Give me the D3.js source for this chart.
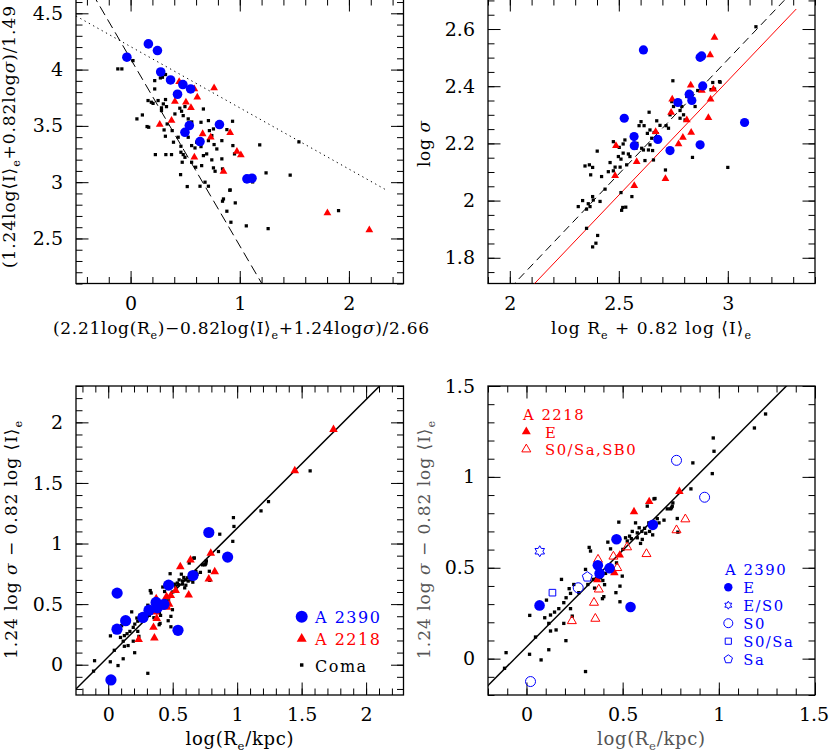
<!DOCTYPE html>
<html>
<head>
<meta charset="utf-8">
<script src="https://cdn.jsdelivr.net/npm/d3@7"></script>
<style>
body { margin: 0; background: #fff; }
text { font-family: "DejaVu Serif", serif; }
</style>
</head>
<body>
<svg width="830" height="753"></svg>
<script>
// ---- panel 1 : FP seen "face on" ----
let comaP1 = [[-0.117,4.006],[-0.08,4.006],[0.022,4.08],[0.221,3.902],[0.273,3.926],[0.292,3.932],[0.32,3.956],[0.221,3.828],[0.32,3.734],[0.16,3.725],[0.19,3.71],[0.206,3.70],[0.252,3.725],[0.3,3.695],[0.283,3.66],[0.283,3.636],[0.329,3.671],[0.406,3.606],[0.451,3.657],[0.498,3.671],[0.467,3.63],[0.482,3.591],[0.667,3.65],[0.528,3.562],[0.535,3.53],[0.56,3.535],[0.058,3.562],[0.108,3.597],[0.166,3.488],[0.335,3.517],[0.381,3.458],[0.307,3.464],[0.319,3.408],[0.393,3.355],[0.436,3.399],[0.461,3.319],[0.528,3.399],[0.645,3.532],[0.713,3.547],[0.759,3.473],[0.722,3.458],[0.744,3.414],[0.713,3.369],[0.765,3.334],[0.79,3.295],[0.836,3.369],[0.882,3.467],[0.934,3.541],[0.796,3.517],[0.605,3.355],[0.559,3.325],[0.59,3.304],[0.645,3.316],[0.227,3.245],[0.323,3.245],[0.375,3.245],[0.461,3.266],[0.482,3.245],[0.498,3.221],[0.473,3.177],[0.559,3.177],[0.596,3.133],[0.651,3.147],[0.667,3.236],[0.697,3.251],[0.744,3.198],[0.759,3.127],[0.774,3.097],[0.836,3.207],[0.842,3.118],[0.937,3.325],[0.952,3.251],[0.458,3.067],[0.519,2.961],[0.636,2.964],[0.682,3.0],[0.713,2.964],[0.912,2.931],[0.851,2.851],[1.183,3.331],[1.241,3.082],[1.462,3.062],[1.542,3.358],[1.905,2.748],[1.26,2.588],[1.06,2.612],[0.919,2.644],[0.882,2.742],[0.959,2.816],[0.909,2.928],[1.118,3.002],[0.842,2.831],[0.151,3.494]];
let a2218P1 = [[0.765,3.837],[0.611,3.754],[0.406,3.716],[0.507,3.71],[0.553,3.66],[0.267,3.512],[0.375,3.547],[0.445,3.893],[0.912,3.438],[0.66,3.429],[0.734,3.4],[0.584,3.221],[0.974,3.272],[1.01,3.242],[0.851,3.094],[1.803,2.727],[2.187,2.576],[0.584,3.828]];
let a2390P1 = [[-0.034,4.11],[0.163,4.228],[0.246,4.169],[0.276,3.979],[0.366,3.908],[0.479,3.867],[0.55,3.828],[0.43,3.781],[0.538,3.503],[0.498,3.443],[0.636,3.361],[0.814,3.512],[1.066,3.029],[1.112,3.035]];
let dashP1 = [[-0.35,4.676],[1.25,2.02]];
let dotP1 = [[-0.5,4.476],[2.33,2.937]];

// ---- panel 2 : log sigma vs log Re + 0.82 log I ----
let comaP2 = [[2.748,2.419],[2.639,2.309],[2.602,2.276],[2.593,2.262],[2.616,2.262],[2.674,2.279],[2.689,2.263],[2.717,2.262],[2.728,2.253],[2.735,2.3],[2.751,2.329],[2.743,2.346],[2.774,2.341],[2.781,2.315],[2.789,2.329],[2.797,2.3],[2.781,2.288],[2.804,2.282],[2.812,2.364],[2.835,2.375],[2.85,2.329],[2.931,2.413],[2.965,2.414],[2.923,2.388],[2.939,2.39],[2.862,2.385],[2.643,2.247],[2.631,2.235],[2.662,2.238],[2.651,2.218],[2.674,2.212],[2.643,2.195],[2.636,2.177],[2.655,2.175],[2.583,2.2],[2.579,2.183],[2.605,2.183],[2.613,2.177],[2.528,2.212],[2.52,2.198],[2.502,2.186],[2.475,2.206],[2.401,2.173],[2.498,2.154],[2.51,2.145],[2.52,2.166],[2.544,2.163],[2.551,2.154],[2.506,2.117],[2.483,2.117],[2.475,2.104],[2.452,2.101],[2.46,2.133],[2.421,2.084],[2.536,2.125],[2.62,2.14],[2.659,2.142],[2.345,2.121],[2.365,2.125],[2.38,2.116],[2.371,2.09],[2.437,2.04],[2.38,2.014],[2.383,2.002],[2.334,2.0],[2.36,1.989],[2.414,1.997],[2.352,1.97],[2.314,1.979],[2.368,1.979],[2.51,2.028],[2.56,2.014],[2.518,1.976],[2.532,1.977],[2.513,1.966],[2.714,2.107],[2.838,2.151],[3.0,2.116],[2.352,1.903],[2.403,1.878],[2.395,1.851],[2.38,1.838],[3.129,2.608],[2.962,2.416]];
let a2218P2 = [[2.939,2.57],[2.919,2.509],[2.83,2.403],[2.881,2.385],[2.934,2.389],[2.921,2.354],[2.911,2.29],[2.745,2.354],[2.74,2.308],[2.812,2.282],[2.832,2.238],[2.774,2.198],[2.794,2.221],[2.487,2.192],[2.483,2.087],[2.582,2.136],[2.571,2.052],[2.714,2.076],[2.669,2.241]];
let a2390P2 = [[2.613,2.527],[2.525,2.288],[2.57,2.224],[2.571,2.192],[2.679,2.214],[2.735,2.175],[2.771,2.343],[2.823,2.372],[2.835,2.35],[2.873,2.501],[2.88,2.506],[2.885,2.401],[2.873,2.195],[3.077,2.273]];
let dashP2 = [[2.0,1.693],[3.3,2.733]];
let redP2 = [[2.09,1.691],[3.314,2.67]];

// ---- panels 3 and 4 : FP edge on, log Re ----
let comaRe = [[-0.114,-0.053],[-0.106,0.033],[0.016,0.024],[0.076,-0.007],[0.017,0.238],[0.047,0.119],[0.116,0.049],[0.095,0.225],[0.104,0.322],[0.125,0.24],[0.116,0.194],[0.125,0.152],[0.154,0.158],[0.146,0.256],[0.168,0.275],[0.182,0.436],[0.194,0.194],[0.205,0.099],[0.194,0.308],[0.206,0.335],[0.222,0.385],[0.229,0.359],[0.238,0.234],[0.246,0.408],[0.272,0.363],[0.307,0.491],[0.319,0.408],[0.326,0.612],[0.333,0.592],[0.347,0.436],[0.354,0.388],[0.397,0.43],[0.406,0.407],[0.395,0.33],[0.402,0.341],[0.307,-0.071],[0.423,0.641],[0.437,0.604],[0.48,0.751],[0.486,0.399],[0.465,0.363],[0.486,0.313],[0.468,0.527],[0.501,0.601],[0.515,0.665],[0.524,0.647],[0.536,0.674],[0.567,0.747],[0.576,0.692],[0.586,0.72],[0.602,0.656],[0.576,0.665],[0.593,0.634],[0.614,0.717],[0.628,0.839],[0.636,0.747],[0.656,0.681],[0.668,0.881],[0.689,0.747],[0.715,0.762],[0.732,0.824],[0.749,0.824],[0.761,0.857],[0.758,0.839],[0.787,0.696],[0.498,0.454],[0.411,0.469],[0.385,0.445],[0.229,0.275],[0.971,1.214],[0.975,1.141],[0.966,1.018],[0.865,1.077],[0.855,0.934],[1.185,1.269],[1.243,1.346],[0.784,0.771],[0.754,0.83],[0.663,0.879],[1.566,1.60],[0.55,0.70],[0.62,0.69],[0.64,0.70],[0.545,0.66],[0.60,0.70],[0.68,0.77]];
let a2218Re = [[0.559,0.808],[0.638,0.864],[0.795,0.92],[0.485,0.57],[0.457,0.473],[0.368,0.434],[0.236,0.207],[0.351,0.308],[0.358,0.22],[0.376,0.381],[0.372,0.545],[0.452,0.562],[0.472,0.499],[0.523,0.613],[0.624,0.576],[0.78,0.707],[0.826,0.767],[1.447,1.60],[1.747,1.941]];
let a2218Type = ['E','E','E','E','E','E','S','S','S','S','S','S','S','S','S','S','S','E','E'];
let a2390Re = [[0.021,-0.126],[0.068,0.293],[0.069,0.591],[0.135,0.363],[0.269,0.39],[0.316,0.45],[0.371,0.514],[0.38,0.469],[0.432,0.498],[0.468,0.657],[0.541,0.284],[0.657,0.736],[0.78,1.091],[0.926,0.888]];
let a2390Type = ['S0','E','E/S0','S0/Sa','S0','Sa','E','E','E','E','E','E','S0','S0'];
let fitRe = [[-0.3,-0.254],[2.2,2.401]];

// ticks
let p1XMajor = [0, 1, 2], p1YMajor = [2.5, 3, 3.5, 4, 4.5];
let p2XMajor = [2, 2.5, 3], p2YMajor = [1.8, 2, 2.2, 2.4, 2.6];
let p3XMajor = [0, 0.5, 1, 1.5, 2], p3YMajor = [0, 0.5, 1, 1.5, 2];
let p4XMajor = [0, 0.5, 1, 1.5], p4YMajor = [0, 0.5, 1, 1.5];

let blue = '#0000ff', red = '#ff0000';
let svg = d3.select('svg');

let hexagram = {draw(c, R) {
    for (let k = 0; k < 12; k++) {
        let r = k % 2 ? R / Math.sqrt(3) : R, a = -Math.PI / 2 + k * Math.PI / 6;
        if (k) c.lineTo(r * Math.cos(a), r * Math.sin(a)); else c.moveTo(r * Math.cos(a), r * Math.sin(a));
    }
    c.closePath();
}};
let pentagon = {draw(c, R) {
    for (let k = 0; k < 5; k++) {
        let a = -Math.PI / 2 + k * 2 * Math.PI / 5;
        if (k) c.lineTo(R * Math.cos(a), R * Math.sin(a)); else c.moveTo(R * Math.cos(a), R * Math.sin(a));
    }
    c.closePath();
}};
function triSize(w) { return Math.sqrt(3) / 4 * w * w; }
function circSize(r) { return Math.PI * r * r; }

function panel(id, box, xdom, ydom, xMajor, xStep, yMajor, yStep) {
    let x = d3.scaleLinear().domain(xdom).range([box.l, box.r]);
    let y = d3.scaleLinear().domain(ydom).range([box.b, box.t]);
    svg.append('clipPath').attr('id', 'clip' + id).append('rect')
        .attr('x', box.l).attr('y', box.t).attr('width', box.r - box.l).attr('height', box.b - box.t);
    let g = svg.append('g');
    let steps = (d, s) => d3.range(Math.ceil(d[0] / s - 1e-6), Math.floor(d[1] / s + 1e-6) + 1).map(i => +(i * s).toFixed(4));
    let xMinor = steps(xdom, xStep), yMinor = steps(ydom, yStep);
    let sides = [
        [d3.axisBottom, x, 'translate(0,' + box.b + ')', xMajor, xMinor, true],
        [d3.axisTop, x, 'translate(0,' + box.t + ')', xMajor, xMinor, false],
        [d3.axisLeft, y, 'translate(' + box.l + ',0)', yMajor, yMinor, true],
        [d3.axisRight, y, 'translate(' + box.r + ',0)', yMajor, yMinor, false]
    ];
    sides.forEach(([ax, sc, tr, major, minor, lab]) => {
        g.append('g').attr('transform', tr)
            .call(ax(sc).tickValues(minor).tickSize(-6.5).tickFormat(''))
            .call(a => a.select('.domain').remove());
        g.append('g').attr('transform', tr)
            .call(ax(sc).tickValues(major).tickSize(-12.5).tickPadding(13).tickFormat(lab ? d => String(d) : ''))
            .call(a => a.select('.domain').remove())
            .call(a => a.selectAll('text').attr('font-family', '"DejaVu Serif", serif').attr('font-size', 19)
                .attr('fill', '#000'));
    });
    g.append('rect').attr('x', box.l).attr('y', box.t).attr('width', box.r - box.l).attr('height', box.b - box.t)
        .attr('fill', 'none').attr('stroke', '#000').attr('stroke-width', 1.3);
    let inner = svg.append('g').attr('clip-path', 'url(#clip' + id + ')');
    return {x, y, g: inner, frame: g};
}

function line(p, pts, color, dash, w) {
    p.g.append('path').attr('d', d3.line().x(d => p.x(d[0])).y(d => p.y(d[1]))(pts))
        .attr('fill', 'none').attr('stroke', color).attr('stroke-width', w || 1)
        .attr('stroke-dasharray', dash || null);
}

function marks(p, pts, type, size, color, filled) {
    p.g.selectAll(null).data(pts).enter().append('path')
        .attr('transform', d => 'translate(' + p.x(d[0]) + ',' + p.y(d[1]) + ')')
        .attr('d', d3.symbol().type(type).size(size))
        .attr('fill', filled ? color : 'none')
        .attr('stroke', filled ? 'none' : color).attr('stroke-width', 1);
}

function label(x0, y0, rot, parts, fs, len, color, anchor) {
    let t = svg.append('text').attr('transform', 'translate(' + x0 + ',' + y0 + ') rotate(' + rot + ')')
        .attr('text-anchor', anchor || 'middle').attr('font-size', fs).attr('fill', color || '#000');
    let down = false;
    parts.forEach(q => {
        let sp = t.append('tspan');
        if (q.s) {
            sp.text(q.s).attr('font-size', fs * 0.65).attr('dy', fs * 0.3);
            down = true;
        } else {
            sp.text(q.i || q);
            if (q.i) sp.attr('font-style', 'italic');
            if (down) { sp.attr('dy', -fs * 0.3); down = false; }
        }
    });
    if (len) t.attr('textLength', len).attr('lengthAdjust', 'spacing');
    return t;
}

function legendText(x, y, txt, color, fs) {
    svg.append('text').attr('x', x).attr('y', y).attr('font-size', fs)
        .attr('letter-spacing', 1.5).attr('fill', color).text(txt);
}

// ---------- panel 1 ----------
let p1 = panel(1, {l: 76, r: 403.5, t: -1, b: 283.5}, [-0.5, 2.5], [2.1, 4.627], p1XMajor, 0.2, p1YMajor, 0.1);
line(p1, dashP1, '#000', '10,5');
line(p1, dotP1, '#000', '1.3,3.6');
marks(p1, comaP1, d3.symbolSquare, 10.5, '#000', true);
marks(p1, a2218P1, d3.symbolTriangle, triSize(7.8), red, true);
marks(p1, a2390P1, d3.symbolCircle, circSize(4.8), blue, true);
label(15, 137, -90, ['(1.24log⟨I⟩', {s: 'e'}, '+0.82log', {i: 'σ'}, ')/1.49'], 17, 262);
label(241, 334, 0, ['(2.21log(R', {s: 'e'}, ')−0.82log⟨I⟩', {s: 'e'}, '+1.24log', {i: 'σ'}, ')/2.66'], 17, 376);

// ---------- panel 2 ----------
let p2 = panel(2, {l: 488, r: 815, t: -1, b: 283.5}, [1.9, 3.4], [1.71, 2.705], p2XMajor, 0.1, p2YMajor, 0.05);
line(p2, dashP2, '#000', '8,5');
line(p2, redP2, red);
marks(p2, comaP2, d3.symbolSquare, 10.5, '#000', true);
marks(p2, a2218P2, d3.symbolTriangle, triSize(7.8), red, true);
marks(p2, a2390P2, d3.symbolCircle, circSize(4.6), blue, true);
label(430, 144, -90, ['log ', {i: 'σ'}], 17, 46);
label(651, 334, 0, ['log  R', {s: 'e'}, '  +  0.82  log  ⟨I⟩', {s: 'e'}], 17, 200);

// ---------- panel 3 ----------
let p3 = panel(3, {l: 76, r: 403.5, t: 386, b: 695}, [-0.25, 2.29], [-0.25, 2.3], p3XMajor, 0.1, p3YMajor, 0.1);
line(p3, fitRe, '#000', null, 1.5);
marks(p3, comaRe, d3.symbolSquare, 10.5, '#000', true);
marks(p3, a2218Re, d3.symbolTriangle, triSize(8.6), red, true);
marks(p3, a2390Re, d3.symbolCircle, circSize(5.6), blue, true);
label(17, 540, -90, ['1.24  log  ', {i: 'σ'}, '  −  0.82  log  ⟨I⟩', {s: 'e'}], 17, 238);
label(239.5, 745, 0, ['log(R', {s: 'e'}, '/kpc)'], 18, 108);

// legend panel 3
let leg3 = [['A 2390', blue, d3.symbolCircle, circSize(6)], ['A 2218', red, d3.symbolTriangle, triSize(10)], ['Coma', '#000', d3.symbolSquare, 12]];
leg3.forEach((d, i) => {
    let cy = [616.7, 638.8, 665][i];
    svg.append('path').attr('transform', 'translate(301.7,' + cy + ')')
        .attr('d', d3.symbol().type(d[2]).size(d[3])).attr('fill', d[1]);
    legendText(315, cy + 6.5, d[0], d[1], 16);
});

// ---------- panel 4 ----------
let p4 = panel(4, {l: 488, r: 815, t: 386, b: 695}, [-0.2, 1.5], [-0.2, 1.5], p4XMajor, 0.1, p4YMajor, 0.1);
// the last x label sits on the page edge, pull it in a little
p4.frame.selectAll('text').filter(d => d === 1.5 && p4XMajor.includes(d))
    .filter(function() { return this.getAttribute('dy') === '0.71em'; }).attr('dx', -1.5);
line(p4, fitRe, '#000', null, 1.5);
marks(p4, comaRe, d3.symbolSquare, 11, '#000', true);
marks(p4, a2218Re.filter((d, i) => a2218Type[i] == 'S'), d3.symbolTriangle, triSize(9), red, false);
marks(p4, a2218Re.filter((d, i) => a2218Type[i] == 'E'), d3.symbolTriangle, triSize(8.5), red, true);
let typeShapes = {'E': [d3.symbolCircle, circSize(5.3), true], 'E/S0': [hexagram, 5.5, false], 'S0': [d3.symbolCircle, circSize(5), false],
    'S0/Sa': [d3.symbolSquare, 44, false], 'Sa': [pentagon, 5.2, false]};
Object.keys(typeShapes).forEach(k => {
    let s = typeShapes[k];
    marks(p4, a2390Re.filter((d, i) => a2390Type[i] == k), s[0], s[1], blue, s[2]);
});
label(430, 540, -90, ['1.24  log  ', {i: 'σ'}, '  −  0.82  log  ⟨I⟩', {s: 'e'}], 17, 238, '#555');
label(651, 745, 0, ['log(R', {s: 'e'}, '/kpc)'], 18, 108, '#555');

// legend panel 4, A 2218
legendText(523, 420, 'A 2218', red, 14.8);
let leg4r = [['E', true, 431.7], ['S0/Sa,SB0', false, 449.3]];
leg4r.forEach(d => {
    svg.append('path').attr('transform', 'translate(526.3,' + d[2] + ')')
        .attr('d', d3.symbol().type(d3.symbolTriangle).size(triSize(9)))
        .attr('fill', d[1] ? red : 'none').attr('stroke', d[1] ? 'none' : red);
    legendText(545, d[2] + 5.8, d[0], red, 14.8);
});

// legend panel 4, A 2390
legendText(725, 575, 'A 2390', blue, 14.8);
let leg4b = [['E', 587.2], ['E/S0', 605.2], ['S0', 623.2], ['S0/Sa', 641.2], ['Sa', 659.2]];
let legShapes = {'E': [d3.symbolCircle, circSize(4.2), true], 'E/S0': [hexagram, 4, false], 'S0': [d3.symbolCircle, circSize(4.5), false],
    'S0/Sa': [d3.symbolSquare, 38, false], 'Sa': [pentagon, 4.4, false]};
leg4b.forEach(d => {
    let s = legShapes[d[0]];
    svg.append('path').attr('transform', 'translate(728.3,' + d[1] + ')')
        .attr('d', d3.symbol().type(s[0]).size(s[1]))
        .attr('fill', s[2] ? blue : 'none').attr('stroke', s[2] ? 'none' : blue);
    legendText(743.3, d[1] + 5.8, d[0], blue, 14.8);
});
</script>
</body>
</html>
